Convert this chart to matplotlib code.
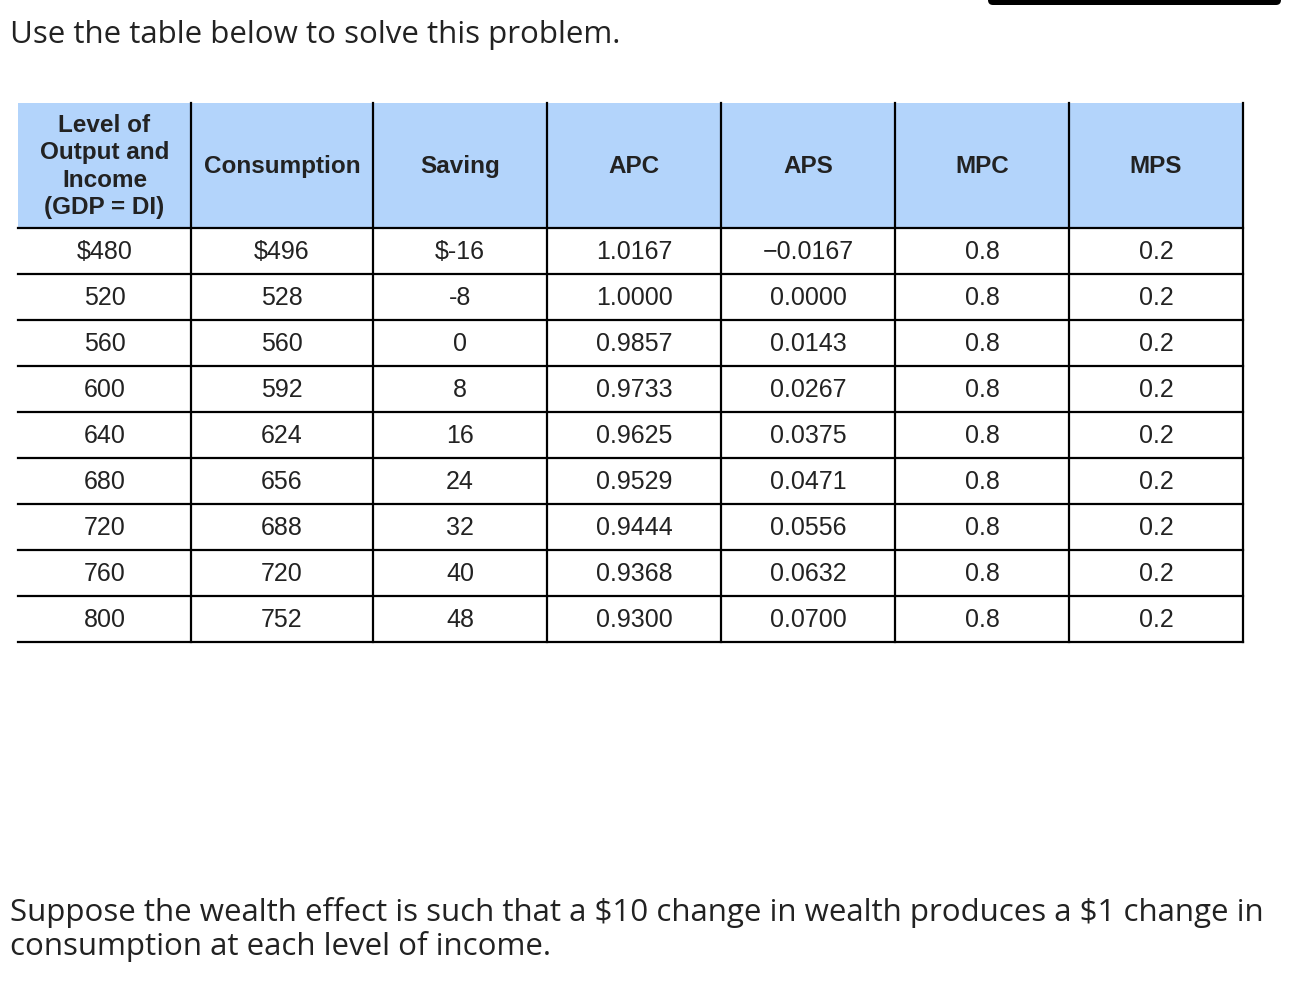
import matplotlib.pyplot as plt
from matplotlib.patches import Rectangle, FancyBboxPatch

plt.rcParams["text.parse_math"] = False

headers = ["Level of\nOutput and\nIncome\n(GDP = DI)", "Consumption", "Saving", "APC", "APS", "MPC", "MPS"]
income = ["$480", "520", "560", "600", "640", "680", "720", "760", "800"]
consumption = ["$496", "528", "560", "592", "624", "656", "688", "720", "752"]
saving = ["$-16", "-8", "0", "8", "16", "24", "32", "40", "48"]
apc = ["1.0167", "1.0000", "0.9857", "0.9733", "0.9625", "0.9529", "0.9444", "0.9368", "0.9300"]
aps = ["\u22120.0167", "0.0000", "0.0143", "0.0267", "0.0375", "0.0471", "0.0556", "0.0632", "0.0700"]
mpc = ["0.8"] * 9
mps = ["0.2"] * 9

W, H = 1292, 1006
fig = plt.figure(figsize=(W / 100, H / 100), dpi=100)
ax = fig.add_axes([0, 0, 1, 1])
ax.set_xlim(0, W)
ax.set_ylim(H, 0)
ax.axis("off")

xs = [18, 191, 373, 547, 721, 895, 1069, 1243]
top, head_bot, row_h = 103, 228, 46
columns = [income, consumption, saving, apc, aps, mpc, mps]
nrows = len(income)

ax.add_patch(Rectangle((xs[0], top), xs[-1] - xs[0], head_bot - top, color="#b3d4fb", lw=0))
bottom = head_bot + nrows * row_h
for x in xs[1:]:
    ax.plot([x, x], [top, bottom], color="black", lw=1.6)
for i in range(nrows + 1):
    y = head_bot + i * row_h
    ax.plot([xs[0], xs[-1]], [y, y], color="black", lw=1.6)

tf = "Liberation Sans"
for j, h in enumerate(headers):
    cx = (xs[j] + xs[j + 1]) / 2
    ax.text(cx, (top + head_bot) / 2 + 1, h, ha="center", va="center", fontsize=17.5,
            fontweight="bold", family=tf, color="#222222", linespacing=1.25)
    for i, v in enumerate(columns[j]):
        cy = head_bot + i * row_h + row_h / 2 + 1
        ax.text(cx, cy, v, ha="center", va="center", fontsize=18, family=tf, color="#222222")

tkw = dict(ha="left", va="center", fontsize=22.5, family="Open Sans", color="#222222")
ax.text(10, 35, "Use the table below to solve this problem.", **tkw)
ax.text(10, 912, "Suppose the wealth effect is such that a $10 change in wealth produces a $1 change in", **tkw)
ax.text(10, 947, "consumption at each level of income.", **tkw)

ax.add_patch(FancyBboxPatch((988, -10), 293, 15, boxstyle="round,pad=0,rounding_size=5",
                            color="black", lw=0))

fig.savefig("out.png", dpi=100)
